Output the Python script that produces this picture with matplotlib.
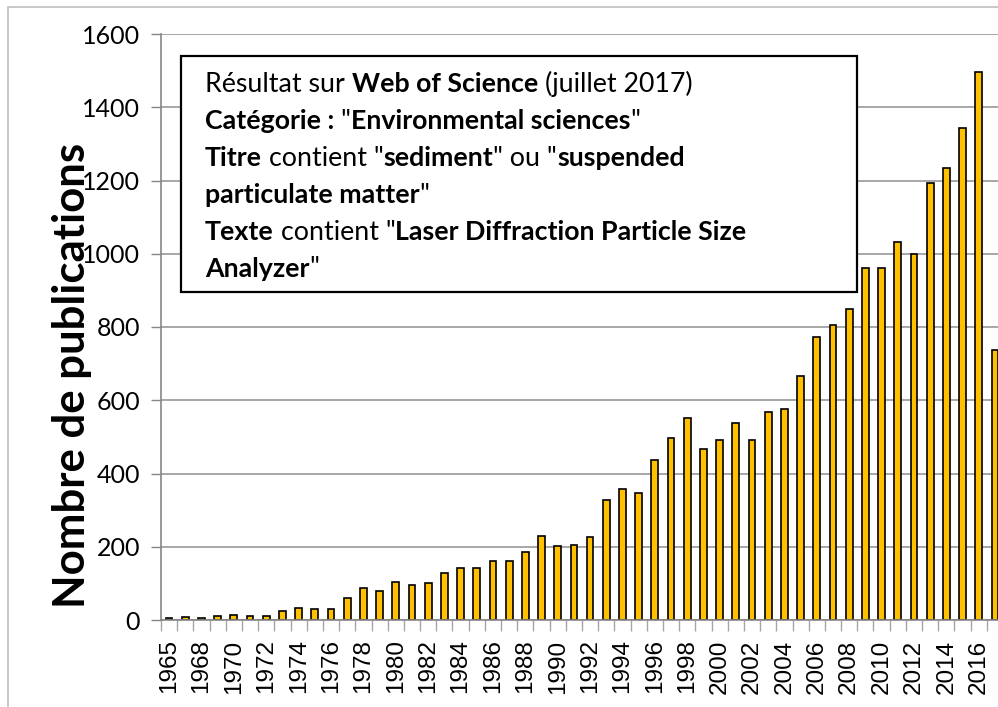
import matplotlib
matplotlib.use("Agg")
import matplotlib.pyplot as plt
import matplotlib.patches as patches
import numpy as np

# --- Data ---
years = [1965] + list(range(1967, 2018))
counts = [
    5, 9, 5, 10, 15, 10, 12, 24, 32, 31,        # 1965, 1967-1975
    29, 61, 88, 80, 103, 96, 100, 127, 142, 142,  # 1976-1985
    162, 162, 187, 228, 201, 206, 227, 328, 357, 348,  # 1986-1995
    437, 498, 551, 466, 492, 538, 492, 568, 576, 665,  # 1996-2005
    774, 805, 849, 962, 960, 1031, 999, 1193, 1235, 1343,  # 2006-2015
    1497, 738,                                   # 2016-2017
]
y_ticks = [0, 200, 400, 600, 800, 1000, 1200, 1400, 1600]
y_label = "Nombre de publications"

# lines of the annotation box: list of (text, bold) runs
box_lines = [
    [("Résultat sur ", False), ("Web of Science", True), (" (juillet 2017)", False)],
    [("Catégorie : ", True), ('"', False), ("Environmental sciences", True), ('"', False)],
    [("Titre", True), (' contient "', False), ("sediment", True), ('" ou "', False),
     ("suspended", True)],
    [("particulate matter", True), ('"', False)],
    [("Texte", True), (' contient "', False), ("Laser Diffraction Particle Size", True)],
    [("Analyzer", True), ('"', False)],
]

W, H = 998, 707
fig = plt.figure(figsize=(W / 100, H / 100), dpi=100)

# outer chart border (cropped on the right and bottom)
fig.patches.append(patches.Rectangle((8 / W, -0.1), 1.2, 1 - 7 / H + 0.1,
                                     transform=fig.transFigure, fill=False,
                                     edgecolor="#BFBFBF", linewidth=1.2))

left, right, bottom, top = 161, 1003, 620, 34
ax = fig.add_axes([left / W, 1 - bottom / H, (right - left) / W, (bottom - top) / H])

x = np.arange(len(years))
ax.bar(x, counts, width=0.42, color="#FFC000", edgecolor="black", linewidth=1.2,
       zorder=3)

ax.set_xlim(-0.5, len(years) - 0.5)
ax.set_ylim(0, 1600)

ax.set_yticks(y_ticks)
ax.set_yticklabels([str(v) for v in y_ticks], fontfamily="Lato", fontsize=18)
ax.tick_params(axis="y", length=7, width=1, color="#868686", pad=8)
ax.grid(axis="y", color="#A0A0A0", linewidth=1.3, zorder=0)

ax.set_xticks(x[::2])
ax.set_xticklabels([str(y) for y in years[::2]], rotation=90,
                   fontfamily="Liberation Sans", fontsize=17.5)
ax.tick_params(axis="x", which="major", length=0, pad=14)
ax.set_xticks(np.arange(-0.5, len(years), 1.0), minor=True)
ax.tick_params(axis="x", which="minor", length=8, width=1, color="#A6A6A6")

for side in ["top", "right"]:
    ax.spines[side].set_visible(False)
for side in ["left", "bottom"]:
    ax.spines[side].set_color("#868686")
    ax.spines[side].set_linewidth(1.2)
ax.spines["bottom"].set_zorder(4)

fig.text(72 / W, 1 - 375 / H, y_label, rotation=90, ha="center", va="center",
         fontfamily="Lato", fontweight="bold", fontsize=31.5)

# annotation box
bx0, by0, bx1, by1 = 181, 56, 857, 292
fig.patches.append(patches.Rectangle((bx0 / W, 1 - by1 / H), (bx1 - bx0) / W,
                                     (by1 - by0) / H, transform=fig.transFigure,
                                     facecolor="white", edgecolor="black",
                                     linewidth=1.6, zorder=5))

renderer = fig.canvas.get_renderer()
box_fs = 19.3


def text_width(s, bold):
    t = fig.text(0, 0, s, fontfamily="Lato", fontsize=box_fs,
                 fontweight="bold" if bold else "normal")
    w = t.get_window_extent(renderer).width
    t.remove()
    return w


space_w = {b: text_width("x x", b) - text_width("xx", b) for b in (False, True)}

line_y0, line_step = 84, 37
for i, runs in enumerate(box_lines):
    xpos = 205.0
    ypos = line_y0 + i * line_step
    for s, bold in runs:
        lead = len(s) - len(s.lstrip(" "))
        trail = len(s) - len(s.rstrip(" "))
        core = s.strip(" ")
        xpos += lead * space_w[bold]
        t = fig.text(xpos / W, 1 - ypos / H, core, fontfamily="Lato", fontsize=box_fs,
                     fontweight="bold" if bold else "normal", va="center", ha="left",
                     zorder=6)
        xpos += t.get_window_extent(renderer).width + trail * space_w[bold]

fig.savefig("out.png", dpi=100)
